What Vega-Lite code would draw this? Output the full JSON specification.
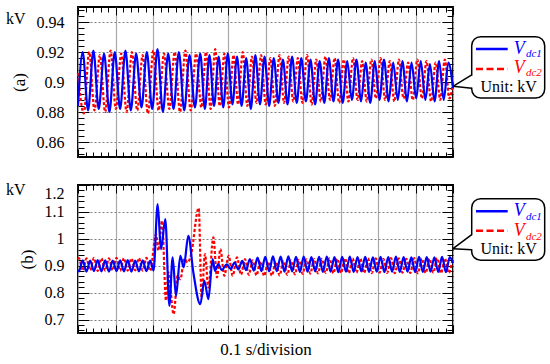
{
"$schema":"https://vega.github.io/schema/vega-lite/v6.json",
"background":"white",
"padding":{"left":5,"top":1,"right":5,"bottom":5},
"spacing":18,
"datasets":{
"a1":[{"t":0,"v":0.884},{"t":0.0125,"v":0.92},{"t":0.0268,"v":0.881},{"t":0.041,"v":0.921},{"t":0.0553,"v":0.882},{"t":0.0695,"v":0.919},{"t":0.0838,"v":0.88},{"t":0.098,"v":0.92},{"t":0.1123,"v":0.882},{"t":0.1265,"v":0.921},{"t":0.1408,"v":0.881},{"t":0.155,"v":0.919},{"t":0.1693,"v":0.883},{"t":0.1835,"v":0.92},{"t":0.1978,"v":0.882},{"t":0.212,"v":0.922},{"t":0.2263,"v":0.88},{"t":0.2405,"v":0.919},{"t":0.2548,"v":0.882},{"t":0.269,"v":0.92},{"t":0.2833,"v":0.881},{"t":0.2975,"v":0.918},{"t":0.3118,"v":0.883},{"t":0.326,"v":0.919},{"t":0.3383,"v":0.882},{"t":0.3505,"v":0.918},{"t":0.3628,"v":0.884},{"t":0.375,"v":0.917},{"t":0.3873,"v":0.883},{"t":0.3995,"v":0.919},{"t":0.4118,"v":0.885},{"t":0.424,"v":0.917},{"t":0.4363,"v":0.884},{"t":0.4485,"v":0.916},{"t":0.4608,"v":0.882},{"t":0.473,"v":0.918},{"t":0.4853,"v":0.885},{"t":0.4975,"v":0.917},{"t":0.5098,"v":0.884},{"t":0.522,"v":0.916},{"t":0.5343,"v":0.886},{"t":0.5465,"v":0.915},{"t":0.5588,"v":0.885},{"t":0.571,"v":0.917},{"t":0.5833,"v":0.886},{"t":0.5955,"v":0.916},{"t":0.6078,"v":0.887},{"t":0.62,"v":0.915},{"t":0.6323,"v":0.885},{"t":0.6445,"v":0.914},{"t":0.6568,"v":0.886},{"t":0.669,"v":0.916},{"t":0.6813,"v":0.887},{"t":0.6935,"v":0.915},{"t":0.7058,"v":0.886},{"t":0.718,"v":0.914},{"t":0.7303,"v":0.888},{"t":0.7425,"v":0.915},{"t":0.7548,"v":0.887},{"t":0.767,"v":0.913},{"t":0.7793,"v":0.886},{"t":0.7915,"v":0.914},{"t":0.8038,"v":0.888},{"t":0.816,"v":0.915},{"t":0.8283,"v":0.887},{"t":0.8405,"v":0.913},{"t":0.8528,"v":0.888},{"t":0.865,"v":0.914},{"t":0.8773,"v":0.887},{"t":0.8895,"v":0.913},{"t":0.9018,"v":0.889},{"t":0.914,"v":0.914},{"t":0.9263,"v":0.888},{"t":0.9385,"v":0.912},{"t":0.9508,"v":0.887},{"t":0.963,"v":0.914},{"t":0.9753,"v":0.888},{"t":0.9875,"v":0.913},{"t":1.0,"v":0.896}],
"a2":[{"t":0,"v":0.906},{"t":0.0155,"v":0.879},{"t":0.0298,"v":0.92},{"t":0.044,"v":0.881},{"t":0.0583,"v":0.918},{"t":0.0725,"v":0.88},{"t":0.0868,"v":0.921},{"t":0.101,"v":0.882},{"t":0.1153,"v":0.919},{"t":0.1295,"v":0.88},{"t":0.1438,"v":0.92},{"t":0.158,"v":0.881},{"t":0.1723,"v":0.918},{"t":0.1865,"v":0.879},{"t":0.2008,"v":0.921},{"t":0.215,"v":0.881},{"t":0.2293,"v":0.919},{"t":0.2435,"v":0.882},{"t":0.2578,"v":0.92},{"t":0.272,"v":0.88},{"t":0.2863,"v":0.921},{"t":0.3005,"v":0.881},{"t":0.3148,"v":0.919},{"t":0.329,"v":0.883},{"t":0.3413,"v":0.92},{"t":0.3535,"v":0.882},{"t":0.3658,"v":0.922},{"t":0.378,"v":0.884},{"t":0.3903,"v":0.919},{"t":0.4025,"v":0.883},{"t":0.4148,"v":0.918},{"t":0.427,"v":0.885},{"t":0.4393,"v":0.92},{"t":0.4515,"v":0.884},{"t":0.4638,"v":0.917},{"t":0.476,"v":0.886},{"t":0.4883,"v":0.918},{"t":0.5005,"v":0.885},{"t":0.5128,"v":0.916},{"t":0.525,"v":0.884},{"t":0.5373,"v":0.918},{"t":0.5495,"v":0.886},{"t":0.5618,"v":0.917},{"t":0.574,"v":0.887},{"t":0.5863,"v":0.916},{"t":0.5985,"v":0.886},{"t":0.6108,"v":0.918},{"t":0.623,"v":0.885},{"t":0.6353,"v":0.915},{"t":0.6475,"v":0.887},{"t":0.6598,"v":0.917},{"t":0.672,"v":0.888},{"t":0.6843,"v":0.916},{"t":0.6965,"v":0.886},{"t":0.7088,"v":0.915},{"t":0.721,"v":0.887},{"t":0.7333,"v":0.916},{"t":0.7455,"v":0.888},{"t":0.7578,"v":0.914},{"t":0.77,"v":0.887},{"t":0.7823,"v":0.915},{"t":0.7945,"v":0.889},{"t":0.8068,"v":0.916},{"t":0.819,"v":0.888},{"t":0.8313,"v":0.914},{"t":0.8435,"v":0.887},{"t":0.8558,"v":0.915},{"t":0.868,"v":0.889},{"t":0.8803,"v":0.913},{"t":0.8925,"v":0.888},{"t":0.9048,"v":0.915},{"t":0.917,"v":0.889},{"t":0.9293,"v":0.914},{"t":0.9415,"v":0.887},{"t":0.9538,"v":0.913},{"t":0.966,"v":0.888},{"t":0.9783,"v":0.915},{"t":0.9905,"v":0.889},{"t":1.0,"v":0.9}],
"b1":[{"t":0,"v":0.885},{"t":0.0025,"v":0.879},{"t":0.0125,"v":0.92},{"t":0.0225,"v":0.878},{"t":0.0325,"v":0.919},{"t":0.0425,"v":0.88},{"t":0.0525,"v":0.921},{"t":0.0625,"v":0.879},{"t":0.0725,"v":0.92},{"t":0.0825,"v":0.878},{"t":0.0925,"v":0.919},{"t":0.1025,"v":0.88},{"t":0.1125,"v":0.92},{"t":0.1225,"v":0.879},{"t":0.1325,"v":0.921},{"t":0.1425,"v":0.878},{"t":0.1525,"v":0.919},{"t":0.1625,"v":0.879},{"t":0.1725,"v":0.92},{"t":0.1825,"v":0.88},{"t":0.1925,"v":0.919},{"t":0.2015,"v":0.882},{"t":0.2124,"v":1.129},{"t":0.2213,"v":0.962},{"t":0.2329,"v":1.073},{"t":0.2435,"v":0.751},{"t":0.2524,"v":0.931},{"t":0.2613,"v":0.788},{"t":0.2729,"v":0.937},{"t":0.2818,"v":0.894},{"t":0.2942,"v":1.011},{"t":0.3076,"v":0.875},{"t":0.3262,"v":0.757},{"t":0.3369,"v":0.844},{"t":0.3476,"v":0.776},{"t":0.3591,"v":0.925},{"t":0.3653,"v":0.881},{"t":0.3742,"v":0.906},{"t":0.3831,"v":0.884},{"t":0.3969,"v":0.905},{"t":0.4071,"v":0.888},{"t":0.4174,"v":0.912},{"t":0.4276,"v":0.886},{"t":0.4379,"v":0.918},{"t":0.4481,"v":0.884},{"t":0.4584,"v":0.925},{"t":0.4686,"v":0.882},{"t":0.4789,"v":0.93},{"t":0.4891,"v":0.88},{"t":0.4994,"v":0.933},{"t":0.5096,"v":0.879},{"t":0.5199,"v":0.935},{"t":0.5301,"v":0.88},{"t":0.5404,"v":0.934},{"t":0.5506,"v":0.878},{"t":0.5609,"v":0.935},{"t":0.5711,"v":0.879},{"t":0.5814,"v":0.933},{"t":0.5916,"v":0.877},{"t":0.6019,"v":0.934},{"t":0.6121,"v":0.878},{"t":0.6224,"v":0.932},{"t":0.6326,"v":0.879},{"t":0.6429,"v":0.933},{"t":0.6531,"v":0.877},{"t":0.6634,"v":0.934},{"t":0.6736,"v":0.878},{"t":0.6839,"v":0.932},{"t":0.6941,"v":0.876},{"t":0.7044,"v":0.933},{"t":0.7146,"v":0.878},{"t":0.7249,"v":0.934},{"t":0.7351,"v":0.877},{"t":0.7454,"v":0.932},{"t":0.7556,"v":0.879},{"t":0.7659,"v":0.933},{"t":0.7761,"v":0.877},{"t":0.7864,"v":0.931},{"t":0.7966,"v":0.878},{"t":0.8069,"v":0.933},{"t":0.8171,"v":0.876},{"t":0.8274,"v":0.932},{"t":0.8376,"v":0.878},{"t":0.8479,"v":0.934},{"t":0.8581,"v":0.877},{"t":0.8684,"v":0.932},{"t":0.8786,"v":0.878},{"t":0.8889,"v":0.931},{"t":0.8991,"v":0.876},{"t":0.9094,"v":0.933},{"t":0.9196,"v":0.877},{"t":0.9299,"v":0.932},{"t":0.9401,"v":0.878},{"t":0.9504,"v":0.931},{"t":0.9606,"v":0.877},{"t":0.9709,"v":0.933},{"t":0.9811,"v":0.876},{"t":0.9914,"v":0.932},{"t":1.0,"v":0.91}],
"b2":[{"t":0,"v":0.925},{"t":0.0025,"v":0.928},{"t":0.0125,"v":0.882},{"t":0.0225,"v":0.927},{"t":0.0325,"v":0.883},{"t":0.0425,"v":0.929},{"t":0.0525,"v":0.881},{"t":0.0625,"v":0.928},{"t":0.0725,"v":0.882},{"t":0.0825,"v":0.927},{"t":0.0925,"v":0.883},{"t":0.1025,"v":0.929},{"t":0.1125,"v":0.881},{"t":0.1225,"v":0.928},{"t":0.1325,"v":0.882},{"t":0.1425,"v":0.927},{"t":0.1525,"v":0.883},{"t":0.1625,"v":0.928},{"t":0.1725,"v":0.882},{"t":0.1825,"v":0.929},{"t":0.1925,"v":0.881},{"t":0.208,"v":1.017},{"t":0.2144,"v":0.956},{"t":0.2241,"v":1.067},{"t":0.2347,"v":0.77},{"t":0.2409,"v":0.875},{"t":0.255,"v":0.72},{"t":0.2658,"v":0.863},{"t":0.2729,"v":0.85},{"t":0.2836,"v":0.925},{"t":0.2924,"v":0.912},{"t":0.3013,"v":0.94},{"t":0.3218,"v":1.114},{"t":0.3298,"v":0.782},{"t":0.3387,"v":0.943},{"t":0.3476,"v":0.819},{"t":0.3609,"v":1.005},{"t":0.3707,"v":0.857},{"t":0.3796,"v":0.962},{"t":0.3902,"v":0.863},{"t":0.4018,"v":0.937},{"t":0.4124,"v":0.863},{"t":0.424,"v":0.931},{"t":0.4347,"v":0.867},{"t":0.4453,"v":0.925},{"t":0.4555,"v":0.866},{"t":0.4658,"v":0.92},{"t":0.476,"v":0.864},{"t":0.4863,"v":0.917},{"t":0.4965,"v":0.862},{"t":0.5068,"v":0.915},{"t":0.517,"v":0.863},{"t":0.5273,"v":0.916},{"t":0.5375,"v":0.864},{"t":0.5478,"v":0.918},{"t":0.558,"v":0.866},{"t":0.5683,"v":0.92},{"t":0.5785,"v":0.868},{"t":0.5888,"v":0.922},{"t":0.599,"v":0.87},{"t":0.6093,"v":0.924},{"t":0.6195,"v":0.871},{"t":0.6298,"v":0.925},{"t":0.64,"v":0.872},{"t":0.6503,"v":0.926},{"t":0.6605,"v":0.873},{"t":0.6708,"v":0.927},{"t":0.681,"v":0.872},{"t":0.6913,"v":0.926},{"t":0.7015,"v":0.873},{"t":0.7118,"v":0.928},{"t":0.722,"v":0.872},{"t":0.7323,"v":0.927},{"t":0.7425,"v":0.874},{"t":0.7528,"v":0.926},{"t":0.763,"v":0.873},{"t":0.7733,"v":0.928},{"t":0.7835,"v":0.872},{"t":0.7938,"v":0.927},{"t":0.804,"v":0.874},{"t":0.8143,"v":0.926},{"t":0.8245,"v":0.873},{"t":0.8348,"v":0.928},{"t":0.845,"v":0.872},{"t":0.8553,"v":0.927},{"t":0.8655,"v":0.874},{"t":0.8758,"v":0.926},{"t":0.886,"v":0.873},{"t":0.8963,"v":0.928},{"t":0.9065,"v":0.872},{"t":0.9168,"v":0.927},{"t":0.927,"v":0.873},{"t":0.9373,"v":0.926},{"t":0.9475,"v":0.874},{"t":0.9578,"v":0.928},{"t":0.968,"v":0.872},{"t":0.9783,"v":0.927},{"t":0.9885,"v":0.873},{"t":0.9988,"v":0.926}]
},
"vconcat":[
{
"width":375,"height":150,
"layer":[
{"data":{"name":"a2"},"mark":{"type":"line","color":"#ff0000","strokeWidth":2.2,"strokeDash":[3,2],"interpolate":"monotone"},
"encoding":{
"x":{"field":"t","type":"quantitative","scale":{"domain":[0,1],"nice":false,"zero":false},
"axis":{"orient":"bottom","values":[0,0.02,0.04,0.06,0.08,0.1,0.12,0.14,0.16,0.18,0.2,0.22,0.24,0.26,0.28,0.3,0.32,0.34,0.36,0.38,0.4,0.42,0.44,0.46,0.48,0.5,0.52,0.54,0.56,0.58,0.6,0.62,0.64,0.66,0.68,0.7,0.72,0.74,0.76,0.78,0.8,0.82,0.84,0.86,0.88,0.9,0.92,0.94,0.96,0.98,1],"labels":false,"grid":true,"gridColor":"#a8a8a8","gridWidth":1.2,"gridOpacity":{"condition":{"test":"abs(datum.value*10-round(datum.value*10))<0.001","value":1},"value":0},"tickSize":{"condition":{"test":"abs(datum.value*10-round(datum.value*10))<0.001","value":-8},"value":-5},"title":null}},
"y":{"field":"v","type":"quantitative","scale":{"domain":[0.85,0.95],"nice":false,"zero":false},
"axis":{"orient":"left","values":[0.852,0.856,0.86,0.864,0.868,0.872,0.876,0.88,0.884,0.888,0.892,0.896,0.9,0.904,0.908,0.912,0.916,0.92,0.924,0.928,0.932,0.936,0.94,0.944,0.948],"grid":true,"gridColor":"#808080","gridDash":[2,2],"gridOpacity":{"condition":{"test":"abs(datum.value*50-round(datum.value*50))<0.01","value":1},"value":0},"tickSize":{"condition":{"test":"abs(datum.value*50-round(datum.value*50))<0.01","value":-11},"value":-6},"labelExpr":"abs(datum.value*50-round(datum.value*50))<0.01 ? ''+round(datum.value*100)/100 : ''","labelPadding":25,"labelFlush":false,"title":"(a)","titlePadding":8}}
}},
{"data":{"name":"a1"},"mark":{"type":"line","color":"#0000ff","strokeWidth":2.2,"interpolate":"monotone"},
"encoding":{
"x":{"field":"t","type":"quantitative",
"axis":{"orient":"top","values":[0,0.02,0.04,0.06,0.08,0.1,0.12,0.14,0.16,0.18,0.2,0.22,0.24,0.26,0.28,0.3,0.32,0.34,0.36,0.38,0.4,0.42,0.44,0.46,0.48,0.5,0.52,0.54,0.56,0.58,0.6,0.62,0.64,0.66,0.68,0.7,0.72,0.74,0.76,0.78,0.8,0.82,0.84,0.86,0.88,0.9,0.92,0.94,0.96,0.98,1],"labels":false,"grid":false,"tickSize":{"condition":{"test":"abs(datum.value*10-round(datum.value*10))<0.001","value":-8},"value":-5},"title":null}},
"y":{"field":"v","type":"quantitative",
"axis":{"orient":"right","values":[0.852,0.856,0.86,0.864,0.868,0.872,0.876,0.88,0.884,0.888,0.892,0.896,0.9,0.904,0.908,0.912,0.916,0.92,0.924,0.928,0.932,0.936,0.94,0.944,0.948],"labels":false,"grid":false,"tickSize":{"condition":{"test":"abs(datum.value*50-round(datum.value*50))<0.01","value":-11},"value":-6},"title":null}}
}},
{"data":{"values":[{}]},"mark":{"type":"text","text":"kV","font":"Liberation Serif","fontSize":16,"fill":"#000","align":"left","baseline":"alphabetic"},
"encoding":{"x":{"datum":-0.192,"type":"quantitative","axis":null},"y":{"datum":0.9387,"type":"quantitative","axis":null}}},
{"data":{"values":[{}]},"mark":{"type":"rect","fill":"white","stroke":"#000","strokeWidth":1.5,"cornerRadius":9},
"encoding":{"x":{"datum":1.0499,"type":"quantitative","axis":null},"x2":{"datum":1.2445},"y":{"datum":0.9302,"type":"quantitative","axis":null},"y2":{"datum":0.8893}}},
{"data":{"values":[{}]},"mark":{"type":"rule","stroke":"white","strokeWidth":3},
"encoding":{"x":{"datum":1.0499,"type":"quantitative","axis":null},"y":{"datum":0.9042,"type":"quantitative","axis":null},"y2":{"datum":0.8963}}},
{"data":{"values":[{}]},"mark":{"type":"rule","stroke":"#000","strokeWidth":1.5},
"encoding":{"x":{"datum":1.0,"type":"quantitative","axis":null},"x2":{"datum":1.0499},"y":{"datum":0.8971,"type":"quantitative","axis":null},"y2":{"datum":0.9047}}},
{"data":{"values":[{}]},"mark":{"type":"rule","stroke":"#000","strokeWidth":1.5},
"encoding":{"x":{"datum":1.0,"type":"quantitative","axis":null},"x2":{"datum":1.0499},"y":{"datum":0.8971,"type":"quantitative","axis":null},"y2":{"datum":0.8958}}},
{"data":{"values":[{}]},"mark":{"type":"rule","stroke":"#0000ff","strokeWidth":2.5},
"encoding":{"x":{"datum":1.0613,"type":"quantitative","axis":null},"x2":{"datum":1.1459},"y":{"datum":0.922,"type":"quantitative","axis":null}}},
{"data":{"values":[{}]},"mark":{"type":"rule","stroke":"#ff0000","strokeWidth":2.5,"strokeDash":[7,3.5]},
"encoding":{"x":{"datum":1.0613,"type":"quantitative","axis":null},"x2":{"datum":1.1459},"y":{"datum":0.9087,"type":"quantitative","axis":null}}},
{"data":{"values":[{}]},"mark":{"type":"text","text":"V","font":"Liberation Serif","fontSize":18,"fontStyle":"italic","fill":"#0000ff","align":"left","baseline":"alphabetic"},
"encoding":{"x":{"datum":1.1619,"type":"quantitative","axis":null},"y":{"datum":0.91867,"type":"quantitative","axis":null}}},
{"data":{"values":[{}]},"mark":{"type":"text","text":"dc1","font":"Liberation Serif","fontSize":11,"fontStyle":"italic","fill":"#0000ff","align":"left","baseline":"alphabetic"},
"encoding":{"x":{"datum":1.1945,"type":"quantitative","axis":null},"y":{"datum":0.91647,"type":"quantitative","axis":null}}},
{"data":{"values":[{}]},"mark":{"type":"text","text":"V","font":"Liberation Serif","fontSize":18,"fontStyle":"italic","fill":"#ff0000","align":"left","baseline":"alphabetic"},
"encoding":{"x":{"datum":1.1619,"type":"quantitative","axis":null},"y":{"datum":0.906,"type":"quantitative","axis":null}}},
{"data":{"values":[{}]},"mark":{"type":"text","text":"dc2","font":"Liberation Serif","fontSize":11,"fontStyle":"italic","fill":"#ff0000","align":"left","baseline":"alphabetic"},
"encoding":{"x":{"datum":1.1945,"type":"quantitative","axis":null},"y":{"datum":0.9038,"type":"quantitative","axis":null}}},
{"data":{"values":[{}]},"mark":{"type":"text","text":"Unit: kV","font":"Liberation Serif","fontSize":16,"fill":"#000","align":"center","baseline":"alphabetic"},
"encoding":{"x":{"datum":1.1485,"type":"quantitative","axis":null},"y":{"datum":0.8931,"type":"quantitative","axis":null}}}
]
},
{
"width":375,"height":148,
"layer":[
{"data":{"name":"b2"},"mark":{"type":"line","color":"#ff0000","strokeWidth":2.2,"strokeDash":[3,2],"interpolate":"monotone"},
"encoding":{
"x":{"field":"t","type":"quantitative","scale":{"domain":[0,1],"nice":false,"zero":false},
"axis":{"orient":"bottom","values":[0,0.02,0.04,0.06,0.08,0.1,0.12,0.14,0.16,0.18,0.2,0.22,0.24,0.26,0.28,0.3,0.32,0.34,0.36,0.38,0.4,0.42,0.44,0.46,0.48,0.5,0.52,0.54,0.56,0.58,0.6,0.62,0.64,0.66,0.68,0.7,0.72,0.74,0.76,0.78,0.8,0.82,0.84,0.86,0.88,0.9,0.92,0.94,0.96,0.98,1],"labels":false,"grid":true,"gridColor":"#a8a8a8","gridWidth":1.2,"gridOpacity":{"condition":{"test":"abs(datum.value*10-round(datum.value*10))<0.001","value":1},"value":0},"tickSize":{"condition":{"test":"abs(datum.value*10-round(datum.value*10))<0.001","value":-8},"value":-5},"title":"0.1 s/division","titlePadding":8}},
"y":{"field":"v","type":"quantitative","scale":{"domain":[0.65,1.2],"nice":false,"zero":false},
"axis":{"orient":"left","values":[0.66,0.68,0.7,0.72,0.74,0.76,0.78,0.8,0.82,0.84,0.86,0.88,0.9,0.92,0.94,0.96,0.98,1,1.02,1.04,1.06,1.08,1.1,1.12,1.14,1.16,1.18,1.2],"grid":true,"gridColor":"#808080","gridDash":[2,2],"gridOpacity":{"condition":{"test":"abs(datum.value*10-round(datum.value*10))<0.01","value":1},"value":0},"tickSize":{"condition":{"test":"abs(datum.value*10-round(datum.value*10))<0.01","value":-11},"value":-6},"labelExpr":"abs(datum.value*10-round(datum.value*10))<0.01 ? ''+round(datum.value*10)/10 : ''","labelPadding":25,"labelFlush":true,"title":"(b)","titlePadding":8}}
}},
{"data":{"name":"b1"},"mark":{"type":"line","color":"#0000ff","strokeWidth":2.2,"interpolate":"monotone"},
"encoding":{
"x":{"field":"t","type":"quantitative",
"axis":{"orient":"top","values":[0,0.02,0.04,0.06,0.08,0.1,0.12,0.14,0.16,0.18,0.2,0.22,0.24,0.26,0.28,0.3,0.32,0.34,0.36,0.38,0.4,0.42,0.44,0.46,0.48,0.5,0.52,0.54,0.56,0.58,0.6,0.62,0.64,0.66,0.68,0.7,0.72,0.74,0.76,0.78,0.8,0.82,0.84,0.86,0.88,0.9,0.92,0.94,0.96,0.98,1],"labels":false,"grid":false,"tickSize":{"condition":{"test":"abs(datum.value*10-round(datum.value*10))<0.001","value":-8},"value":-5},"title":null}},
"y":{"field":"v","type":"quantitative",
"axis":{"orient":"right","values":[0.66,0.68,0.7,0.72,0.74,0.76,0.78,0.8,0.82,0.84,0.86,0.88,0.9,0.92,0.94,0.96,0.98,1,1.02,1.04,1.06,1.08,1.1,1.12,1.14,1.16,1.18,1.2],"labels":false,"grid":false,"tickSize":{"condition":{"test":"abs(datum.value*10-round(datum.value*10))<0.01","value":-11},"value":-6},"title":null}}
}},
{"data":{"values":[{}]},"mark":{"type":"text","text":"kV","font":"Liberation Serif","fontSize":16,"fill":"#000","align":"left","baseline":"alphabetic"},
"encoding":{"x":{"datum":-0.192,"type":"quantitative","axis":null},"y":{"datum":1.1617,"type":"quantitative","axis":null}}},
{"data":{"values":[{}]},"mark":{"type":"rect","fill":"white","stroke":"#000","strokeWidth":1.5,"cornerRadius":9},
"encoding":{"x":{"datum":1.0499,"type":"quantitative","axis":null},"x2":{"datum":1.2445},"y":{"datum":1.1491,"type":"quantitative","axis":null},"y2":{"datum":0.9202}}},
{"data":{"values":[{}]},"mark":{"type":"rule","stroke":"white","strokeWidth":3},
"encoding":{"x":{"datum":1.0499,"type":"quantitative","axis":null},"y":{"datum":1.0135,"type":"quantitative","axis":null},"y2":{"datum":0.9614}}},
{"data":{"values":[{}]},"mark":{"type":"rule","stroke":"#000","strokeWidth":1.5},
"encoding":{"x":{"datum":1.0,"type":"quantitative","axis":null},"x2":{"datum":1.0499},"y":{"datum":0.9633,"type":"quantitative","axis":null},"y2":{"datum":1.0153}}},
{"data":{"values":[{}]},"mark":{"type":"rule","stroke":"#000","strokeWidth":1.5},
"encoding":{"x":{"datum":1.0,"type":"quantitative","axis":null},"x2":{"datum":1.0499},"y":{"datum":0.9633,"type":"quantitative","axis":null},"y2":{"datum":0.9596}}},
{"data":{"values":[{}]},"mark":{"type":"rule","stroke":"#0000ff","strokeWidth":2.5},
"encoding":{"x":{"datum":1.0613,"type":"quantitative","axis":null},"x2":{"datum":1.1459},"y":{"datum":1.1023,"type":"quantitative","axis":null}}},
{"data":{"values":[{}]},"mark":{"type":"rule","stroke":"#ff0000","strokeWidth":2.5,"strokeDash":[7,3.5]},
"encoding":{"x":{"datum":1.0613,"type":"quantitative","axis":null},"x2":{"datum":1.1459},"y":{"datum":1.0302,"type":"quantitative","axis":null}}},
{"data":{"values":[{}]},"mark":{"type":"text","text":"V","font":"Liberation Serif","fontSize":18,"fontStyle":"italic","fill":"#0000ff","align":"left","baseline":"alphabetic"},
"encoding":{"x":{"datum":1.1619,"type":"quantitative","axis":null},"y":{"datum":1.0837,"type":"quantitative","axis":null}}},
{"data":{"values":[{}]},"mark":{"type":"text","text":"dc1","font":"Liberation Serif","fontSize":11,"fontStyle":"italic","fill":"#0000ff","align":"left","baseline":"alphabetic"},
"encoding":{"x":{"datum":1.1945,"type":"quantitative","axis":null},"y":{"datum":1.0711,"type":"quantitative","axis":null}}},
{"data":{"values":[{}]},"mark":{"type":"text","text":"V","font":"Liberation Serif","fontSize":18,"fontStyle":"italic","fill":"#ff0000","align":"left","baseline":"alphabetic"},
"encoding":{"x":{"datum":1.1619,"type":"quantitative","axis":null},"y":{"datum":1.0094,"type":"quantitative","axis":null}}},
{"data":{"values":[{}]},"mark":{"type":"text","text":"dc2","font":"Liberation Serif","fontSize":11,"fontStyle":"italic","fill":"#ff0000","align":"left","baseline":"alphabetic"},
"encoding":{"x":{"datum":1.1945,"type":"quantitative","axis":null},"y":{"datum":0.9967,"type":"quantitative","axis":null}}},
{"data":{"values":[{}]},"mark":{"type":"text","text":"Unit: kV","font":"Liberation Serif","fontSize":16,"fill":"#000","align":"center","baseline":"alphabetic"},
"encoding":{"x":{"datum":1.1485,"type":"quantitative","axis":null},"y":{"datum":0.9436,"type":"quantitative","axis":null}}}
]
}
],
"config":{
"view":{"stroke":"#000","strokeWidth":2},
"font":"Liberation Serif",
"axis":{"labelFont":"Liberation Serif","labelFontSize":16,"labelColor":"#000","titleFont":"Liberation Serif","titleFontSize":17,"titleFontWeight":"normal","titleColor":"#000","tickColor":"#000","tickWidth":1,"domain":false,"labelOverlap":false,"labelBound":false}
}
}
